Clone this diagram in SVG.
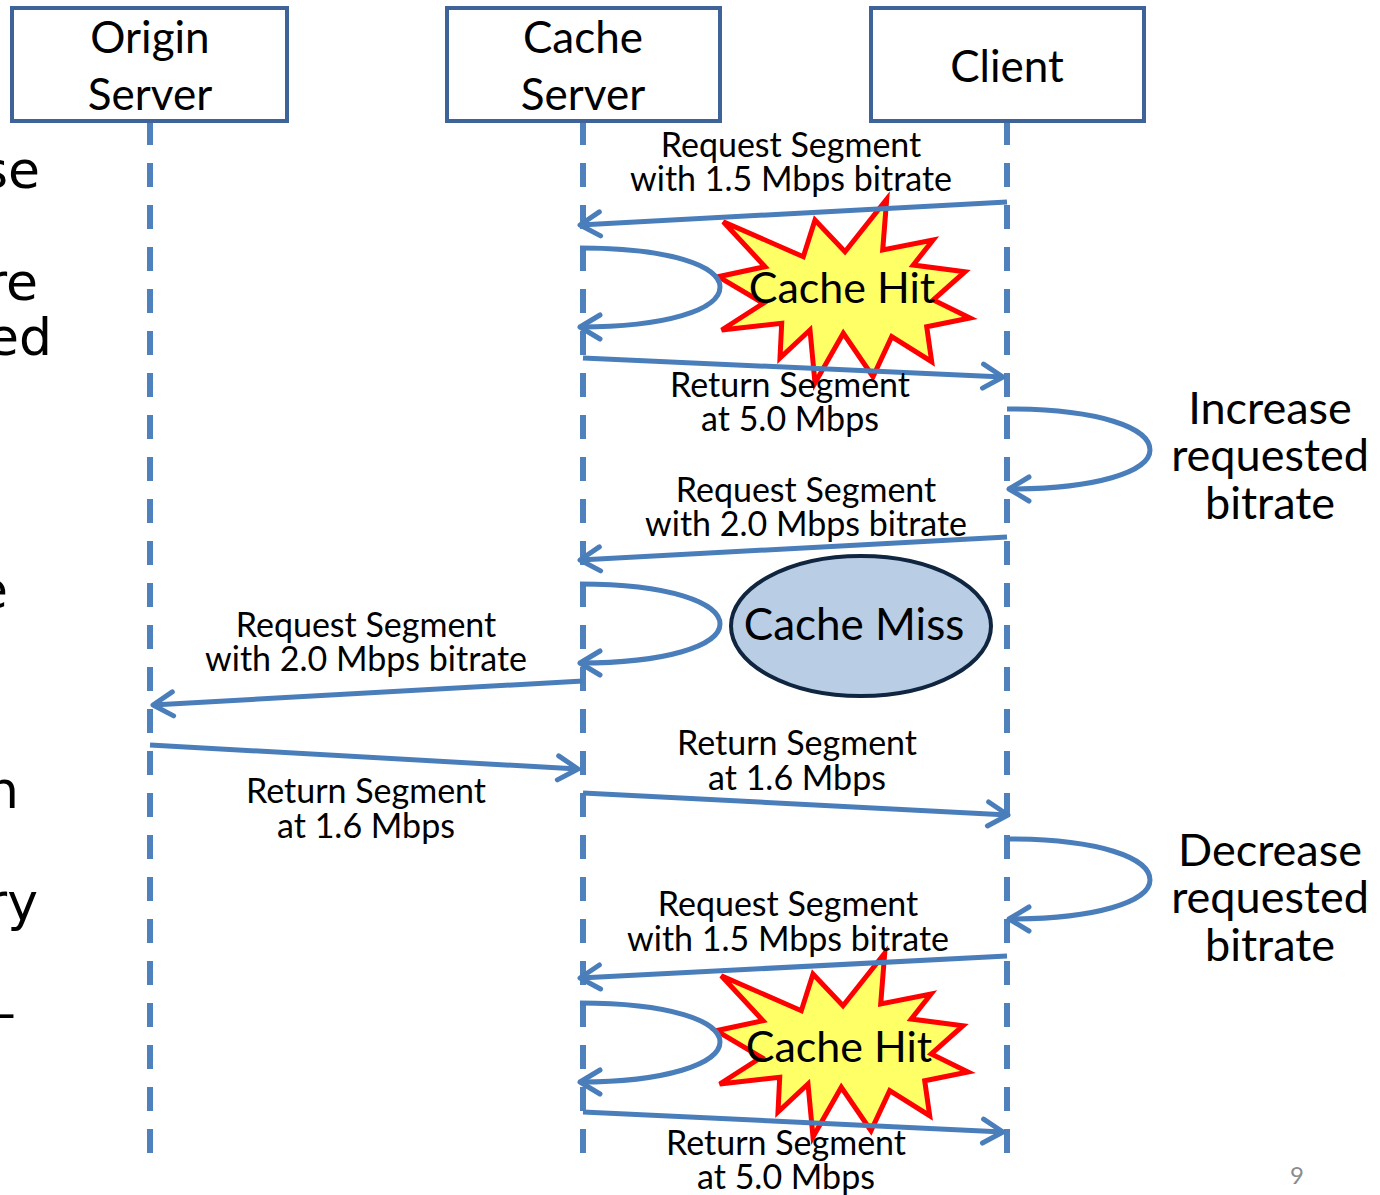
<svg xmlns="http://www.w3.org/2000/svg" width="1380" height="1195" viewBox="0 0 1380 1195">
<style>
.box{fill:#fff;stroke:#3d6399;stroke-width:4}
.life{stroke:#4f81bd;stroke-width:6;stroke-dasharray:24 18;fill:none}
.msg{stroke:#4a7ebb;stroke-width:5;fill:none;marker-end:url(#ah)}
.t{font-family:Lato,"Open Sans",sans-serif;fill:#000;text-anchor:middle}
.lbl{font-size:34px}
.hdr{font-size:44px}
.side{font-size:45px}
.star{fill:#ffff66;stroke:#ff0000;stroke-width:5;stroke-linejoin:miter}
.cut{font-family:"DejaVu Sans",sans-serif;font-size:52px;fill:#000;text-anchor:end}
</style>
<defs>
<marker id="ah" markerUnits="userSpaceOnUse" markerWidth="40" markerHeight="40" viewBox="-30 -20 40 40" refX="0" refY="0" orient="auto">
<path d="M-20,-12 L0,0 L-20,12" fill="none" stroke="#4a7ebb" stroke-width="5" stroke-linecap="round" stroke-linejoin="round"/>
</marker>
<polygon id="burst" points="886.7,199.3 882.7,250 933,240 913.3,265 965,271.7 933.3,300 970,318 926.7,326.7 931.7,361.7 891.7,336.7 873,376.7 843.3,333.3 815,383 810,330 780,358 781.7,323.3 721.7,330 763.3,303.3 718.3,276.7 765,266.7 723.3,221.7 803.3,256.7 815,220 845,251.7"/>
</defs>
<rect width="1380" height="1195" fill="#fff"/>

<g id="side-text">
<text class="cut" x="40" y="188">se</text>
<text class="cut" x="38" y="300">re</text>
<text class="cut" x="52" y="355">ed</text>
<text class="cut" x="8" y="608">e</text>
<text class="cut" x="19" y="808">n</text>
<text class="cut" x="38" y="920">ry</text>
<text class="cut" x="16" y="1030">–</text>
</g>

<g id="lifelines">
<line class="life" x1="150" y1="121" x2="150" y2="1155"/>
<line class="life" x1="583" y1="121" x2="583" y2="1155"/>
<line class="life" x1="1007" y1="121" x2="1007" y2="1155"/>
</g>

<g id="origin-server">
<rect class="box" x="12" y="8" width="275" height="113"/>
<text class="t hdr" x="150" y="53">Origin</text>
<text class="t hdr" x="150" y="110">Server</text>
</g>
<g id="cache-server">
<rect class="box" x="447" y="8" width="273" height="113"/>
<text class="t hdr" x="583" y="53">Cache</text>
<text class="t hdr" x="583" y="110">Server</text>
</g>
<g id="client">
<rect class="box" x="871" y="8" width="273" height="113"/>
<text class="t hdr" x="1007" y="82">Client</text>
</g>

<g id="cache-hit-1">
<use href="#burst" class="star"/>
</g>
<g id="cache-hit-2">
<use href="#burst" class="star" transform="translate(-2,754)"/>
</g>
<g id="cache-miss">
<ellipse cx="861" cy="626" rx="130" ry="70" fill="#b9cde5" stroke="#10253f" stroke-width="4"/>
</g>

<g id="connectors">
<line class="msg" x1="1007" y1="202" x2="580" y2="225"/>
<path class="msg" d="M580,248 C670,248 720,266 720,287 C720,310 665,327 580,327"/>
<line class="msg" x1="583" y1="358" x2="1003" y2="377"/>
<path class="msg" d="M1007,409 C1100,409 1150,428 1150,450 C1150,472 1095,489 1009,489"/>
<line class="msg" x1="1007" y1="537" x2="580" y2="560"/>
<path class="msg" d="M580,584 C670,584 720,603 720,624 C720,646 665,663 580,663"/>
<line class="msg" x1="583" y1="681" x2="153" y2="705"/>
<line class="msg" x1="150" y1="745" x2="578" y2="769"/>
<line class="msg" x1="583" y1="793" x2="1008" y2="815"/>
<path class="msg" d="M1007,839 C1100,839 1150,858 1150,880 C1150,902 1095,919 1009,919"/>
<line class="msg" x1="1007" y1="956" x2="580" y2="978"/>
<path class="msg" d="M580,1003 C670,1003 720,1021 720,1042 C720,1064 665,1082 580,1082"/>
<line class="msg" x1="583" y1="1112" x2="1003" y2="1132"/>
</g>

<g id="labels">
<text class="t lbl" x="791" y="157">Request Segment</text>
<text class="t lbl" x="791" y="191">with 1.5 Mbps bitrate</text>
<text class="t" x="842" y="303" font-size="43">Cache Hit</text>
<text class="t lbl" x="790" y="397">Return Segment</text>
<text class="t lbl" x="790" y="431">at 5.0 Mbps</text>
<text class="t side" x="1270" y="424">Increase</text>
<text class="t side" x="1270" y="471">requested</text>
<text class="t side" x="1270" y="519">bitrate</text>
<text class="t lbl" x="806" y="502">Request Segment</text>
<text class="t lbl" x="806" y="536">with 2.0 Mbps bitrate</text>
<text class="t" x="854" y="640" font-size="44">Cache Miss</text>
<text class="t lbl" x="366" y="637">Request Segment</text>
<text class="t lbl" x="366" y="671">with 2.0 Mbps bitrate</text>
<text class="t lbl" x="366" y="803">Return Segment</text>
<text class="t lbl" x="366" y="838">at 1.6 Mbps</text>
<text class="t lbl" x="797" y="755">Return Segment</text>
<text class="t lbl" x="797" y="790">at 1.6 Mbps</text>
<text class="t side" x="1270" y="866">Decrease</text>
<text class="t side" x="1270" y="913">requested</text>
<text class="t side" x="1270" y="961">bitrate</text>
<text class="t lbl" x="788" y="916">Request Segment</text>
<text class="t lbl" x="788" y="951">with 1.5 Mbps bitrate</text>
<text class="t" x="839" y="1062" font-size="43">Cache Hit</text>
<text class="t lbl" x="786" y="1155">Return Segment</text>
<text class="t lbl" x="786" y="1189">at 5.0 Mbps</text>
<text class="t" x="1297" y="1184" font-size="24" style="fill:#8c8c8c">9</text>
</g>
</svg>
